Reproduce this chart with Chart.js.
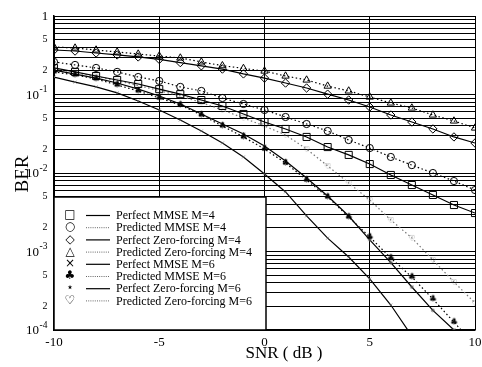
<!DOCTYPE html>
<html>
<head>
<meta charset="utf-8">
<script src="https://cdn.jsdelivr.net/npm/chart.js@4.4.1/dist/chart.umd.min.js"></script>
<style>
  html, body { margin: 0; padding: 0; background: #fff; }
</style>
</head>
<body>
<canvas id="chart" width="482" height="367"></canvas>
<script>
// SNR in dB
const snr = [-10, -9, -8, -7, -6, -5, -4, -3, -2, -1, 0, 1, 2, 3, 4, 5, 6, 7, 8, 9, 10];

// BER values
const perfectMmse4 = [0.218, 0.194, 0.172, 0.153, 0.136, 0.117, 0.101, 0.085, 0.0714, 0.0565, 0.0446,
  0.0364, 0.0288, 0.0214, 0.0170, 0.0130, 0.00944, 0.00703, 0.00525, 0.00391, 0.00309];
const predictedMmse4 = [0.260, 0.238, 0.218, 0.194, 0.167, 0.149, 0.125, 0.111, 0.0902, 0.0757, 0.0635,
  0.0517, 0.0421, 0.0343, 0.0263, 0.0208, 0.0160, 0.0126, 0.0100, 0.0079, 0.00607];
const perfectZf4 = [0.369, 0.358, 0.338, 0.319, 0.301, 0.280, 0.255, 0.232, 0.211, 0.183, 0.162,
  0.140, 0.121, 0.101, 0.0851, 0.0693, 0.0548, 0.0446, 0.0364, 0.0288, 0.0241];
const predictedZf4 = [0.403, 0.391, 0.369, 0.348, 0.328, 0.309, 0.292, 0.260, 0.233, 0.215, 0.199,
  0.172, 0.153, 0.128, 0.111, 0.0929, 0.078, 0.0673, 0.0548, 0.046, 0.0374];
const perfectMmse6 = [0.167, 0.144, 0.125, 0.105, 0.0826, 0.0635, 0.0473, 0.0343, 0.0241, 0.016, 0.0097,
  0.00574, 0.00284, 0.00148, 0.00085, 0.000447, 0.000208, 0.0000839, null, null, null];
const predictedMmse6 = [0.194, 0.177, 0.158, 0.132, 0.111, 0.0902, 0.0735, 0.0548, 0.0397, 0.0288, 0.0202,
  0.0134, 0.00814, 0.00494, 0.00275, 0.00153, 0.000826, 0.000473, 0.000248, 0.000126, 0.000064];
const perfectZf6 = [0.205, 0.182, 0.162, 0.140, 0.117, 0.0957, 0.0757, 0.0565, 0.0421, 0.0314, 0.0221,
  0.0142, 0.00863, 0.00509, 0.00283, 0.00141, 0.000723, 0.000353, 0.000178, 0.0001, 0.000052];
const predictedZf6 = [0.212, 0.190, 0.170, 0.150, 0.130, 0.112, 0.0960, 0.0790, 0.0635, 0.0502, 0.0397,
  0.0305, 0.0202, 0.0123, 0.00746, 0.00453, 0.00252, 0.00149, 0.00078, 0.000409, 0.000221];

// y axis: grid at every 1..9 x 10^k, labels at 1, 2, 5
const yGridValues = [1e-4, 2e-4, 3e-4, 4e-4, 5e-4, 6e-4, 7e-4, 8e-4, 9e-4,
  1e-3, 2e-3, 3e-3, 4e-3, 5e-3, 6e-3, 7e-3, 8e-3, 9e-3,
  1e-2, 2e-2, 3e-2, 4e-2, 5e-2, 6e-2, 7e-2, 8e-2, 9e-2,
  0.1, 0.2, 0.3, 0.4, 0.5, 0.6, 0.7, 0.8, 0.9, 1];
const yMinorLabels = [[2e-4, "2"], [5e-4, "5"], [2e-3, "2"], [5e-3, "5"], [2e-2, "2"], [5e-2, "5"], [0.2, "2"], [0.5, "5"]];
const yDecadeLabels = [[1e-4, "-4"], [1e-3, "-3"], [1e-2, "-2"], [0.1, "-1"]];

const legendGlyphs = ["\u25A1", "\u25CB", "\u25C7", "\u25B3", "\u00D7", "\u2663", "\u22C6", "\u2661"];
const legendDotted = [false, true, false, true, false, true, false, true];

const SERIF = '"Liberation Serif", "Times New Roman", serif';

function glyphImage(ch, px, color) {
  const c = document.createElement("canvas");
  c.width = c.height = px + 4;
  const g = c.getContext("2d");
  g.fillStyle = color;
  g.font = px + 'px "DejaVu Sans"';
  g.textAlign = "center";
  g.textBaseline = "middle";
  g.fillText(ch, c.width / 2, c.height / 2 + 0.5);
  return c;
}

const DOT = [1.5, 2.5];

function series(label, values, opts) {
  return Object.assign({
    label,
    data: values.map((v, i) => ({ x: snr[i], y: v })),
    borderColor: "#000",
    borderWidth: 1.2,
    backgroundColor: "transparent",
    pointBorderColor: "#000",
    pointBackgroundColor: "transparent",
    pointBorderWidth: 1,
    tension: 0
  }, opts);
}

const datasets = [
  series("Perfect MMSE M=4", perfectMmse4, { pointStyle: "rect", pointRadius: 5 }),
  series("Predicted MMSE M=4", predictedMmse4, { borderDash: DOT, pointStyle: "circle", pointRadius: 3.6 }),
  series("Perfect Zero-forcing M=4", perfectZf4, { pointStyle: "rectRot", pointRadius: 4.2 }),
  series("Predicted Zero-forcing M=4", predictedZf4, { borderDash: DOT, pointStyle: "triangle", pointRadius: 4.2 }),
  series("Perfect MMSE M=6", perfectMmse6, { pointStyle: "crossRot", pointRadius: 2, pointBorderWidth: 0.7, pointBorderColor: "#666" }),
  series("Predicted MMSE M=6", predictedMmse6, { borderDash: DOT, pointStyle: glyphImage("\u2663", 9, "#000") }),
  series("Perfect Zero-forcing M=6", perfectZf6, { pointStyle: "star", pointRadius: 2, pointBorderWidth: 0.7, pointBorderColor: "#555" }),
  series("Predicted Zero-forcing M=6", predictedZf6, { borderDash: DOT, borderColor: "#777", pointStyle: glyphImage("\u2661", 8, "#666") })
];

const decorations = {
  id: "decorations",
  afterDatasetsDraw(chart) {
    const { ctx, chartArea: a, scales: { x, y } } = chart;
    ctx.save();

    // legend box
    const boxL = a.left, boxT = Math.round(y.getPixelForValue(5e-3)), boxR = Math.round(x.getPixelForValue(0)) + 1, boxB = a.bottom;
    ctx.fillStyle = "#fff";
    ctx.fillRect(boxL, boxT, boxR - boxL, boxB - boxT);
    ctx.strokeStyle = "#000";
    ctx.lineWidth = 1.5;
    ctx.strokeRect(boxL, boxT, boxR - boxL, boxB - boxT);

    ctx.textBaseline = "middle";
    datasets.forEach((ds, i) => {
      const ry = boxT + 18 + i * 12.2;
      ctx.fillStyle = "#000";
      ctx.font = '12px "DejaVu Sans"';
      ctx.textAlign = "center";
      ctx.fillText(legendGlyphs[i], boxL + 16, ry);
      ctx.beginPath();
      if (legendDotted[i]) {
        ctx.strokeStyle = "#666";
        ctx.lineWidth = 1;
        ctx.setLineDash([1, 1.2]);
      } else {
        ctx.strokeStyle = "#000";
        ctx.lineWidth = 1.2;
        ctx.setLineDash([]);
      }
      ctx.moveTo(boxL + 32, ry + 0.5);
      ctx.lineTo(boxL + 56, ry + 0.5);
      ctx.stroke();
      ctx.setLineDash([]);
      ctx.textAlign = "left";
      ctx.font = "12px " + SERIF;
      ctx.fillText(ds.label, boxL + 62, ry + 1);
    });

    // y tick labels
    ctx.fillStyle = "#000";
    ctx.textAlign = "center";
    ctx.font = "10px " + SERIF;
    yMinorLabels.forEach(([v, t]) => ctx.fillText(t, 45, y.getPixelForValue(v)));
    ctx.font = "13px " + SERIF;
    ctx.fillText("1", 45, y.getPixelForValue(1) + 1);
    yDecadeLabels.forEach(([v, e]) => {
      const py = y.getPixelForValue(v);
      ctx.textAlign = "right";
      ctx.font = "13px " + SERIF;
      ctx.fillText("10", 39, py + 1);
      ctx.textAlign = "left";
      ctx.font = "9.5px " + SERIF;
      ctx.fillText(e, 39.5, py - 5);
    });

    // axis titles
    ctx.textAlign = "center";
    ctx.font = "17px " + SERIF;
    ctx.fillText("SNR ( dB )", 284, 354);
    ctx.translate(22, 174);
    ctx.rotate(-Math.PI / 2);
    ctx.font = "19px " + SERIF;
    ctx.fillText("BER", 0, 1);
    ctx.restore();
  }
};

new Chart(document.getElementById("chart"), {
  type: "line",
  data: { datasets },
  options: {
    responsive: false,
    animation: false,
    layout: { padding: { left: 0, right: 7, top: 16, bottom: 0 } },
    plugins: { legend: { display: false }, tooltip: { enabled: false } },
    scales: {
      x: {
        type: "linear",
        min: -10,
        max: 10,
        afterFit: s => { s.height = 37; s.paddingLeft = 0; s.paddingRight = 0; },
        ticks: { stepSize: 5, color: "#000", font: { family: SERIF, size: 13 }, padding: 5, maxRotation: 0 },
        grid: { color: "#000", lineWidth: 1, drawTicks: false },
        border: { color: "#000", width: 1.5 }
      },
      y: {
        type: "logarithmic",
        min: 1e-4,
        max: 1,
        afterBuildTicks: s => { s.ticks = yGridValues.map(v => ({ value: v })); },
        afterFit: s => { s.width = 54; s.paddingTop = 0; s.paddingBottom = 0; },
        ticks: { display: false },
        grid: { color: "#000", lineWidth: 1, drawTicks: false },
        border: { color: "#000", width: 1.5 }
      }
    }
  },
  plugins: [decorations]
});
</script>
</body>
</html>
